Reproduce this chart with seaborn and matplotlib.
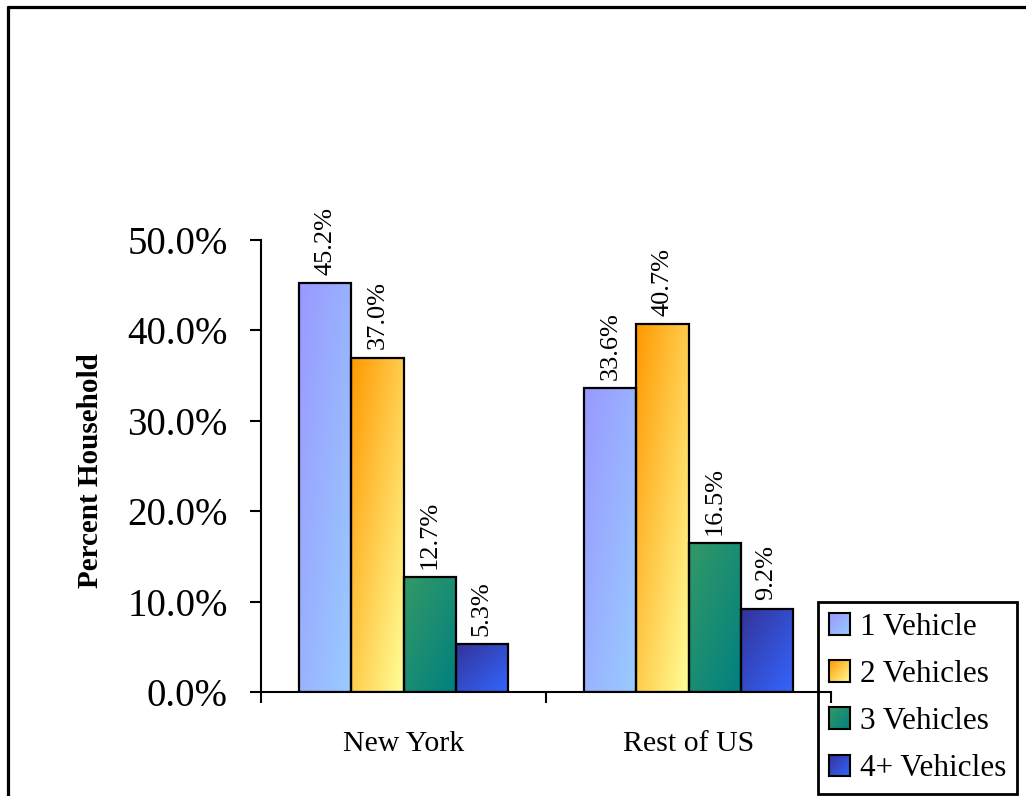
import numpy as np
import pandas as pd
import matplotlib
matplotlib.use("Agg")
import matplotlib.pyplot as plt
from matplotlib.lines import Line2D
from matplotlib.patches import Patch
from matplotlib.colors import to_rgb
import seaborn as sns

# Share of households by number of vehicles
regions = ["New York", "Rest of US"]
vehicle_groups = ["1 Vehicle", "2 Vehicles", "3 Vehicles", "4+ Vehicles"]
new_york = [45.2, 37.0, 12.7, 5.3]
rest_of_us = [33.6, 40.7, 16.5, 9.2]

# gradient end colours per vehicle group (top-left -> bottom-right)
grad_start = ["#9999FF", "#FF9900", "#339966", "#333399"]
grad_end = ["#99CCFF", "#FFFF99", "#008080", "#3366FF"]

df = pd.DataFrame({
    "Region": np.repeat(regions, len(vehicle_groups)),
    "Vehicles": vehicle_groups * len(regions),
    "Percent": new_york + rest_of_us,
})

sns.set_theme(style="white")
plt.rcParams["font.family"] = ["Liberation Serif", "DejaVu Serif"]
plt.rcParams["text.color"] = "black"
plt.rcParams["axes.labelcolor"] = "black"
plt.rcParams["xtick.color"] = "black"
plt.rcParams["ytick.color"] = "black"

W, H = 1026, 796
fig = plt.figure(figsize=(W / 100, H / 100), dpi=100)
ax = fig.add_axes([261 / W, 1 - 692 / H, 570 / W, 452 / H])


def gradient_image(c0, c1, n=120, m=60):
    u = np.linspace(0, 1, m)[None, :]
    v = np.linspace(0, 1, n)[:, None]
    t = 0.5 * u + 0.5 * (1 - v)  # 0 at top-left, 1 at bottom-right
    a, b = np.array(to_rgb(c0)), np.array(to_rgb(c1))
    return a[None, None, :] * (1 - t[..., None]) + b[None, None, :] * t[..., None]


sns.barplot(data=df, x="Region", y="Percent", hue="Vehicles",
            order=regions, hue_order=vehicle_groups,
            width=0.73, gap=0, legend=False, ax=ax,
            palette=grad_start, saturation=1)

for k, cont in enumerate(ax.containers):
    img = gradient_image(grad_start[k], grad_end[k])
    for bar, val in zip(cont.patches, cont.datavalues):
        x, y = bar.get_x(), bar.get_y()
        w, h = bar.get_width(), bar.get_height()
        ax.imshow(img, extent=[x, x + w, y, y + h], origin="lower",
                  aspect="auto", zorder=1.5, interpolation="bilinear")
        bar.set_facecolor("none")
        bar.set_edgecolor("black")
        bar.set_linewidth(1.6)
        bar.set_zorder(2)
        ax.annotate(f"{val:.1f}%", (x + w / 2, y + h), xytext=(0, 6),
                    textcoords="offset points", ha="center", va="bottom",
                    rotation=90, fontsize=19, color="black")

ax.set_xlim(-0.5, 1.5)
ax.set_ylim(0, 50)
ax.set_aspect("auto")

# axes styling
for side in ["top", "right"]:
    ax.spines[side].set_visible(False)
for side in ["left", "bottom"]:
    ax.spines[side].set_color("black")
    ax.spines[side].set_linewidth(1.5)

ax.set_yticks([0, 10, 20, 30, 40, 50])
ax.set_yticklabels([f"{v:.1f}%" for v in [0, 10, 20, 30, 40, 50]])
ax.tick_params(axis="y", which="major", direction="out", length=8, width=1.5,
               color="black", labelcolor="black", labelsize=28, pad=16, left=True)

ax.set_xticks([0, 1])
ax.set_xticklabels(regions)
ax.set_xticks([-0.5, 0.5, 1.5], minor=True)
ax.tick_params(axis="x", which="major", length=0, labelsize=21.5, pad=28,
               labelcolor="black")
ax.tick_params(axis="x", which="minor", direction="out", length=8, width=1.5,
               color="black", bottom=True)

ax.set_xlabel("")
ax.set_ylabel("Percent Household", fontsize=21, fontweight="bold", color="black")
ax.yaxis.set_label_coords(-0.275, 0.489)

# legend
handles = [Patch(facecolor="none", edgecolor="none", label=lab) for lab in vehicle_groups]
leg = ax.legend(handles=handles, loc="upper left",
                bbox_to_anchor=(818 / W, 1 - 602 / H), bbox_transform=fig.transFigure,
                fontsize=22.5, frameon=True, fancybox=False, framealpha=1,
                facecolor="none", edgecolor="black", handlelength=0.69,
                handleheight=0.69, handletextpad=0.3, labelspacing=0.58,
                borderpad=0.35, borderaxespad=0, labelcolor="black")
leg.get_frame().set_linewidth(2)
leg.get_frame().set_facecolor("none")
leg.set_zorder(1)

# outer frame of the chart area
fig.add_artist(Line2D([7.5 / W, 7.5 / W], [-0.05, 1 - 6.5 / H], color="black",
                      lw=2.3, transform=fig.transFigure))
fig.add_artist(Line2D([7.5 / W, 1.05], [1 - 6.5 / H, 1 - 6.5 / H], color="black",
                      lw=2.3, transform=fig.transFigure))

# gradient swatches for the legend keys
fig.canvas.draw()
for k, hd in enumerate(leg.legend_handles):
    bb = hd.get_window_extent().transformed(fig.transFigure.inverted())
    side = min(bb.width * W, bb.height * H)
    cx, cy = bb.x0 + bb.width / 2, bb.y0 + bb.height / 2
    sw, sh = side / W, side / H
    iax = fig.add_axes([cx - sw / 2, cy - sh / 2, sw, sh])
    iax.imshow(gradient_image(grad_start[k], grad_end[k], 30, 30), origin="lower",
               aspect="auto", extent=[0, 1, 0, 1], interpolation="bilinear")
    iax.set_xticks([])
    iax.set_yticks([])
    for sp in iax.spines.values():
        sp.set_visible(True)
        sp.set_color("black")
        sp.set_linewidth(1.5)

fig.savefig("out.png", dpi=100)
